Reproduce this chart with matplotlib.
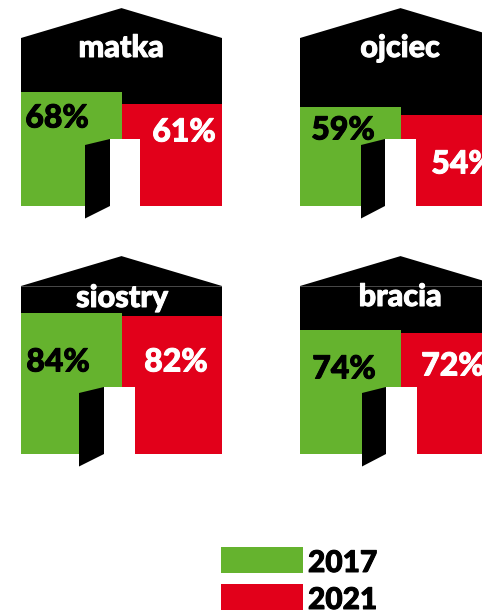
import matplotlib
matplotlib.use("Agg")
import matplotlib.pyplot as plt
import matplotlib.patheffects as pe
from matplotlib.patches import Polygon, Rectangle

plt.rcParams['font.family'] = ['Lato', 'DejaVu Sans']

names = ["matka", "ojciec", "siostry", "bracia"]
values_2017 = [68, 59, 84, 74]
values_2021 = [61, 54, 82, 72]
years = ["2017", "2021"]

GREEN = "#65B32E"
RED = "#E2001A"
W, H = 482, 610
PX_PER_PCT = 1.68

# pixel layout of each house: left, baseline, door left, hinge, door right
layout = [
    (21, 206, 64, 89, 119),
    (300, 206, 61, 85, 116),
    (21, 454, 58, 83, 114),
    (300, 454, 62, 86, 117),
]
# centres of the texts in picture pixels
name_pos = [(121, 48), (400, 48), (122, 298), (400, 297)]
pos_2017 = [(57, 118), (343, 130), (58, 362), (344, 369)]
pos_2021 = [(184, 132), (463, 164), (176, 362), (453, 366)]

fig = plt.figure(figsize=(W / 100, H / 100), dpi=100)


def fig_text(x, y, s, color, size, ha="center"):
    t = fig.text(x / W, 1 - y / H, s, color=color, fontsize=size, fontweight="black",
                 ha=ha, va="center", zorder=10)
    t.set_path_effects([pe.withStroke(linewidth=0.7, foreground=color)])


for i, name in enumerate(names):
    left, base, door_l, hinge, door_r = layout[i]
    # x in pixels from the house corner, y in percent
    top_pct = 125
    ax = fig.add_axes([left / W, 1 - base / H, 201 / W, top_pct * PX_PER_PCT / H])
    ax.set_xlim(0, 201)
    ax.set_ylim(0, top_pct)
    ax.axis("off")

    ax.add_patch(Polygon([(0, 0), (0, 100), (100.5, 117.8), (201, 100), (201, 0)],
                         closed=True, fc="black", ec="none", zorder=1))
    if i >= 2:
        ax.plot([0, 201], [100, 100], color="#555555", lw=0.6, zorder=2)
    ax.bar(100, values_2021[i], width=101, align="edge", color=RED, zorder=3)
    ax.bar(0, values_2017[i], width=101, align="edge", color=GREEN, zorder=4)

    # open door
    door_h = 67 / PX_PER_PCT
    ax.add_patch(Rectangle((hinge, 0), door_r - hinge, door_h, fc="white", ec="none", zorder=5))
    ax.add_patch(Polygon([(door_l, door_h - 6 / PX_PER_PCT), (hinge, door_h), (hinge, 0),
                          (door_l, -12.5 / PX_PER_PCT)],
                         closed=True, fc="black", ec="none", zorder=6, clip_on=False))

    fig_text(name_pos[i][0], name_pos[i][1], name, "white", 22)
    fig_text(pos_2017[i][0], pos_2017[i][1], f"{values_2017[i]}%", "black", 23)
    fig_text(pos_2021[i][0], pos_2021[i][1], f"{values_2021[i]}%", "white", 23)

# legend
leg = fig.add_axes([0, 0, 1, 1])
leg.set_xlim(0, W)
leg.set_ylim(H, 0)
leg.axis("off")
leg.patch.set_alpha(0)
for y, year, col in zip([547, 584], years, [GREEN, RED]):
    leg.add_patch(Rectangle((221, y), 82, 26, fc=col, ec="none"))
    fig_text(308, y + 16, year, "black", 21.5, ha="left")

fig.savefig("out.png", dpi=100)
